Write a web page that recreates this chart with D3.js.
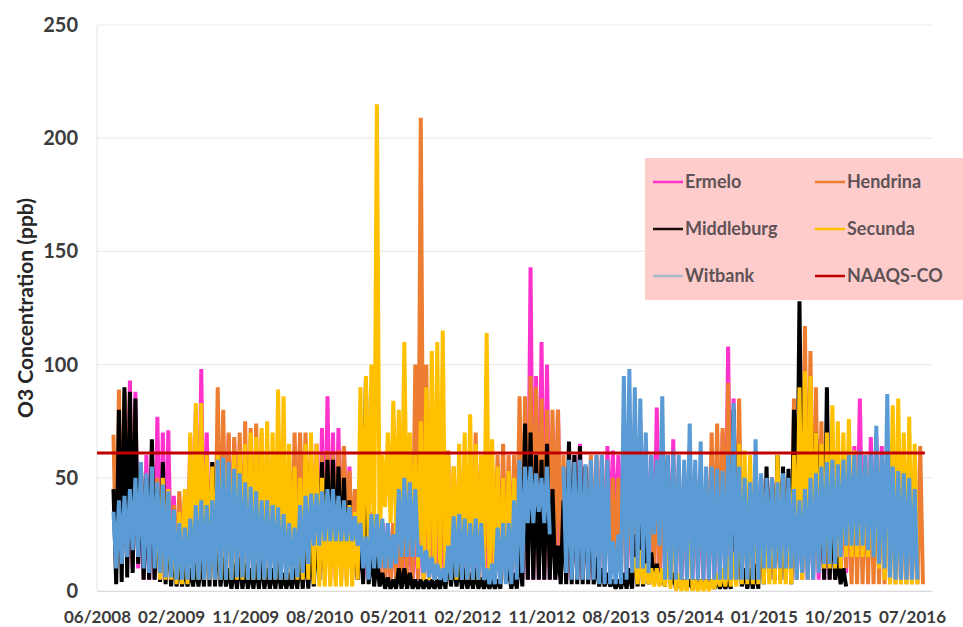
<!DOCTYPE html>
<html>
<head>
<meta charset="utf-8">
<script src="https://cdn.jsdelivr.net/npm/d3@7"></script>
<style>
  body { margin: 0; background: #fff; }
  svg text { font-family: Lato, "Open Sans", sans-serif; font-weight: bold; }
</style>
</head>
<body>
<svg id="chart" width="963" height="627"></svg>
<script>
// one reading every 20 days from 06/2008; each reading keeps the high and the low of the period
const startDate = "2008-06-01";
const stepDays = 20;
const tickLabels = ["06/2008", "02/2009", "11/2009", "08/2010", "05/2011", "02/2012",
                    "11/2012", "08/2013", "05/2014", "01/2015", "10/2015", "07/2016"];
const tickStepDays = 270;
const yTicks = [0, 50, 100, 150, 200, 250];
const naaqsValue = 61;
const naaqsPeriod = ["2008-06-01", "2016-09-04"];

const seriesNames = ["Ermelo", "Hendrina", "Middleburg", "Secunda", "Witbank"];
const seriesColors = ["#ff33cc", "#ed7d31", "#000000", "#ffc000", "#5b9bd5"];

const ermeloHigh = [
  null, null, null, null, null, 70, 93, 88, 55, 60,
  60, 77, 70, 71, 42, 40, 38, 68, 80, 98,
  70, 55, 60, 60, 69, 66, 62, 60, 55, 55,
  55, 55, 55, 55, 55, 55, 55, 55, 55, 60,
  65, 72, 86, 70, 72, 64, 55, 40, 35, 30,
  35, 30, 30, 30, 30, 30, 30, 30, 30, 30,
  30, 30, 30, 30, 30, 30, 30, 30, 30, 30,
  30, 30, 30, 30, 30, 30, 50, 60, 70, 143,
  95, 110, 100, 70, 80, 55, 55, 60, 65, 55,
  58, 58, 60, 64, 62, 60, 50, 55, 60, 75,
  65, 60, 81, 60, 58, 67, 55, 53, 64, 50,
  50, 50, 55, 60, 70, 108, 85, 60, 50, 50,
  50, 50, 50, 50, 50, 50, 50, 50, 50, 50,
  50, 50, 50, 50, 50, 50, 50, 50, 64, 85,
  60, 68, 68, 64, 55, 55, 55, 55, 55, 55,
  null];
const ermeloLow = [
  null, null, null, null, null, 10, 10, 10, 5, 5,
  5, 5, 5, 5, 5, 5, 5, 5, 5, 5,
  5, 5, 5, 5, 5, 5, 5, 5, 5, 5,
  5, 5, 5, 5, 5, 5, 5, 5, 5, 5,
  5, 5, 5, 5, 5, 5, 5, 5, 5, 5,
  5, 5, 5, 5, 5, 5, 5, 5, 5, 5,
  5, 5, 5, 5, 5, 5, 5, 5, 5, 5,
  5, 5, 5, 5, 5, 5, 5, 5, 5, 5,
  5, 5, 5, 5, 5, 5, 5, 5, 5, 5,
  5, 5, 5, 24, 22, 25, 5, 5, 5, 5,
  5, 5, 5, 5, 5, 5, 5, 5, 5, 5,
  5, 5, 5, 5, 5, 5, 5, 5, 5, 5,
  5, 5, 5, 5, 5, 5, 5, 5, 5, 5,
  5, 5, 5, 5, 5, 8, 8, 8, 15, 15,
  15, 15, 15, 15, 15, 15, 5, 5, 5, 5,
  null];

const hendrinaHigh = [
  null, null, null, 69, 89, 88, 85, 60, 55, 50,
  55, 50, 48, 40, 38, 44, 42, 50, 55, 60,
  58, 57, 90, 80, 70, 68, 70, 75, 72, 74,
  70, 65, 60, 60, 58, 60, 70, 70, 70, 60,
  55, 60, 62, 60, 62, 64, 53, 45, 35, 30,
  28, 30, 30, 25, 30, 40, 45, 60, 100, 209,
  100, 80, 70, 55, 62, 55, 55, 60, 62, 70,
  60, 55, 55, 60, 65, 60, 60, 86, 86, 95,
  90, 85, 80, 80, 80, 60, 50, 55, 55, 55,
  60, 60, 60, 50, 50, 50, 55, 55, 55, 55,
  55, 50, 50, 50, 50, 50, 50, 50, 50, 50,
  50, 50, 70, 74, 72, 92, 80, 85, 50, 50,
  50, 50, 50, 50, 50, 50, 50, 85, 60, 117,
  106, 90, 75, 55, 55, 55, 55, 55, 55, 55,
  55, 55, 55, 55, 55, 55, 55, 55, 55, 50,
  64];
const hendrinaLow = [
  null, null, null, 10, 12, 15, 12, 20, 20, 15,
  10, 10, 10, 10, 10, 8, 8, 8, 8, 8,
  8, 8, 8, 8, 8, 8, 8, 8, 8, 8,
  8, 8, 8, 8, 8, 8, 25, 30, 30, 30,
  25, 20, 20, 20, 20, 20, 20, 20, 15, 10,
  8, 5, 5, 5, 5, 5, 5, 5, 5, 5,
  5, 10, 10, 10, 3, 10, 10, 10, 10, 10,
  10, 10, 10, 10, 10, 10, 10, 10, 10, 10,
  10, 10, 10, 15, 15, 12, 10, 10, 10, 10,
  10, 10, 10, 10, 10, 10, 10, 10, 10, 10,
  10, 10, 10, 10, 10, 10, 10, 10, 10, 10,
  10, 10, 10, 10, 10, 10, 10, 10, 10, 10,
  10, 10, 10, 10, 10, 10, 10, 10, 10, 10,
  10, 10, 10, 10, 10, 10, 10, 3, 3, 3,
  3, 3, 3, 3, 3, 3, 3, 3, 3, 3,
  3];

const middleburgHigh = [
  null, null, null, 45, 80, 90, 88, 85, 55, 50,
  67, 45, 57, 35, 20, 15, 12, 10, 12, 15,
  50, 57, 30, 15, 10, 12, 15, 12, 10, 12,
  15, 10, 10, 12, 8, 8, 10, 18, 22, 20,
  30, 57, 58, 58, 55, 50, 40, 32, 25, 93,
  20, 15, 8, 6, 5, 10, 10, 8, 5, 5,
  5, 5, 5, 8, 18, 15, 12, 10, 8, 10,
  6, 5, 5, 5, 30, 10, 8, 20, 74, 70,
  60, 58, 65, 45, 20, 40, 66, 60, 64, 55,
  50, 15, 10, 8, 5, 5, 8, 10, 25, 30,
  28, 17, 12, 8, 60, 8, 5, 5, 5, 5,
  5, 5, 5, 5, 5, 5, 80, 30, 10, 10,
  12, 50, 55, 50, 60, 55, 54, 80, 128, 60,
  80, 70, 45, 90, 40, 15, 10, null, null, null,
  null, null, null, null, null, null, null, null, null, null,
  null];
const middleburgLow = [
  null, null, null, 3, 4, 6, 8, 12, 5, 5,
  5, 4, 3, 2, 2, 2, 2, 2, 2, 2,
  2, 2, 2, 2, 1, 1, 1, 1, 1, 1,
  1, 1, 1, 1, 1, 1, 1, 1, 1, 2,
  5, 8, 10, 10, 10, 10, 8, 5, 3, 3,
  2, 2, 1, 1, 1, 1, 1, 1, 1, 1,
  1, 1, 1, 1, 2, 2, 1, 1, 1, 1,
  1, 1, 1, 1, 18, 1, 1, 2, 5, 5,
  5, 5, 5, 5, 3, 3, 3, 3, 3, 3,
  3, 2, 2, 2, 1, 1, 1, 1, 2, 2,
  3, 3, 3, 2, 3, 1, 1, 1, 1, 1,
  1, 1, 1, 1, 1, 1, 5, 2, 1, 1,
  1, 3, 5, 5, 5, 5, 3, 10, 20, 20,
  30, 25, 5, 5, 5, 3, 2, null, null, null,
  null, null, null, null, null, null, null, null, null, null,
  null];

const secundaHigh = [
  null, null, null, null, null, null, null, null, null, null,
  null, 40, 50, 45, 30, 35, 45, 70, 83, 83,
  60, 55, 60, 58, 55, 60, 62, 65, 70, 68,
  72, 75, 70, 89, 86, 65, 55, 50, 65, 70,
  65, 50, 40, 40, 40, 35, 38, 35, 90, 95,
  100, 215, 60, 70, 84, 80, 110, 70, 60, 75,
  90, 106, 110, 115, 60, 55, 65, 70, 78, 65,
  60, 114, 67, 55, 50, 53, 50, null, null, null,
  null, null, null, null, null, null, null, null, null, null,
  null, null, null, null, null, null, null, null, 15, 18,
  12, 10, 10, 10, 20, 58, 8, 5, 60, 5,
  5, 5, 5, 8, 10, 15, 17, 65, 62, 60,
  55, 50, 40, 45, 60, 50, 45, 60, 90, 97,
  95, 70, 65, 70, 82, 75, 70, 76, 62, 60,
  58, 55, 55, 60, 65, 82, 85, 70, 77, 65,
  null];
const secundaLow = [
  null, null, null, null, null, null, null, null, null, null,
  null, 5, 5, 5, 3, 3, 3, 5, 5, 5,
  5, 5, 5, 5, 5, 5, 5, 5, 5, 5,
  5, 5, 5, 5, 5, 5, 5, 5, 5, 3,
  2, 2, 2, 2, 2, 2, 2, 5, 15, 20,
  20, 20, 37, 30, 25, 20, 20, 20, 10, 5,
  5, 5, 5, 5, 5, 5, 5, 5, 5, 5,
  5, 5, 5, 5, 5, 10, 10, null, null, null,
  null, null, null, null, null, null, null, null, null, null,
  null, null, null, null, null, null, null, null, 3, 3,
  3, 2, 2, 2, 1, 0, 0, 0, 0, 0,
  0, 0, 1, 2, 2, 2, 2, 3, 3, 3,
  3, 3, 3, 3, 3, 3, 3, 5, 5, 5,
  10, 10, 10, 10, 10, 10, 15, 15, 15, 15,
  15, 15, 10, 5, 3, 3, 3, 3, 3, 3,
  null];

const witbankHigh = [
  null, null, null, 35, 40, 42, 45, 50, 57, 52,
  55, 48, 47, 44, 36, 30, 28, 32, 38, 40,
  38, 40, 58, 59, 57, 54, 52, 48, 46, 44,
  40, 40, 38, 37, 34, 30, 28, 38, 42, 43,
  43, 44, 45, 45, 42, 40, 37, 33, 30, 24,
  34, 34, 32, 30, 25, 45, 50, 48, 45, 20,
  18, 15, 12, 10, 20, 33, 34, 32, 30, 32,
  30, 10, 12, 28, 30, 30, 40, 58, 55, 55,
  52, 50, 55, null, null, 55, 58, 57, 58, 56,
  58, 60, 60, 58, 22, 25, 95, 98, 90, 85,
  70, 60, 58, 86, 60, 62, 60, 58, 74, 58,
  66, 55, 55, 54, 53, 60, 83, 55, 50, 48,
  67, 52, 50, 50, 48, 52, 50, 45, 40, 45,
  50, 52, 55, 57, 58, 56, 58, 60, 60, 62,
  60, 61, 73, 60, 87, 55, 53, 52, 50, 45,
  null];
const witbankLow = [
  null, null, null, 10, 12, 15, 18, 15, 10, 8,
  10, 8, 6, 6, 5, 5, 5, 5, 5, 5,
  5, 5, 5, 5, 5, 6, 6, 5, 5, 5,
  5, 5, 5, 5, 5, 5, 6, 8, 12, 20,
  20, 22, 22, 22, 22, 22, 22, 20, 10, 5,
  10, 10, 10, 10, 12, 15, 15, 15, 15, 8,
  6, 5, 5, 4, 5, 6, 5, 5, 5, 5,
  5, 3, 3, 3, 3, 3, 5, 8, 30, 30,
  35, 30, 25, null, null, 8, 5, 5, 5, 5,
  5, 3, 3, 3, 3, 3, 5, 8, 10, 10,
  8, 25, 20, 5, 5, 5, 5, 5, 5, 5,
  5, 5, 5, 5, 5, 5, 5, 5, 5, 5,
  5, 10, 10, 10, 10, 10, 10, 5, 8, 5,
  5, 8, 12, 12, 12, 15, 20, 20, 20, 20,
  18, 15, 12, 10, 6, 5, 5, 5, 5, 5,
  null];

const seriesHigh = [ermeloHigh, hendrinaHigh, middleburgHigh, secundaHigh, witbankHigh];
const seriesLow = [ermeloLow, hendrinaLow, middleburgLow, secundaLow, witbankLow];

const margin = { top: 25, right: 31, bottom: 36, left: 97 };
const width = 963 - margin.left - margin.right;
const height = 627 - margin.top - margin.bottom;

const parse = d3.timeParse("%Y-%m-%d");
const start = parse(startDate);

const x = d3.scaleTime()
  .domain([start, d3.timeDay.offset(start, 3043)])
  .range([0, width]);
const y = d3.scaleLinear().domain([0, 250]).range([height, 0]);

const svg = d3.select("#chart");
const g = svg.append("g").attr("transform", `translate(${margin.left},${margin.top})`);

// grid lines
g.append("g")
  .selectAll("line")
  .data(yTicks)
  .enter()
  .append("line")
  .attr("x1", 0)
  .attr("x2", width)
  .attr("y1", d => y(d))
  .attr("y2", d => y(d))
  .attr("stroke", "#ececec")
  .attr("stroke-width", 1.2);

g.append("line")
  .attr("x1", 0).attr("x2", 0)
  .attr("y1", 0).attr("y2", height)
  .attr("stroke", "#e4e4e4");

// y axis labels
const yAxis = g.append("g")
  .call(d3.axisLeft(y).tickValues(yTicks).tickSize(0).tickPadding(19));
yAxis.select(".domain").remove();
yAxis.selectAll("text").attr("font-size", 20).attr("fill", "#3b3b3b");

// x axis
const tickDates = tickLabels.map((_, k) => d3.timeDay.offset(start, k * tickStepDays));
const xAxis = g.append("g")
  .attr("transform", `translate(0,${height})`)
  .call(d3.axisBottom(x).tickValues(tickDates).tickFormat((d, k) => tickLabels[k])
    .tickSize(0).tickPadding(20));
xAxis.select(".domain").attr("stroke", "#dcdcdc");
xAxis.selectAll("text").attr("font-size", 17).attr("fill", "#3b3b3b");

// y title
svg.append("text")
  .attr("transform", "translate(33,308) rotate(-90)")
  .attr("text-anchor", "middle")
  .attr("font-size", 21)
  .attr("fill", "#262626")
  .text("O3 Concentration (ppb)");

// station series: the line swings from the period high to the period low
g.append("clipPath").attr("id", "plotClip")
  .append("rect").attr("width", width).attr("height", height + 1);

const line = d3.line()
  .defined(d => d.value != null)
  .x(d => x(d.date))
  .y(d => y(d.value));

const plot = g.append("g").attr("clip-path", "url(#plotClip)");

seriesNames.forEach((name, s) => {
  const pts = [];
  seriesHigh[s].forEach((h, i) => {
    const t = d3.timeDay.offset(start, i * stepDays);
    pts.push({ date: t, value: h });
    pts.push({ date: d3.timeDay.offset(t, stepDays / 2), value: seriesLow[s][i] });
  });
  plot.append("path")
    .datum(pts)
    .attr("fill", "none")
    .attr("stroke", seriesColors[s])
    .attr("stroke-width", 4)
    .attr("stroke-linejoin", "bevel")
    .attr("d", line);
});

// NAAQS limit
plot.append("path")
  .datum(naaqsPeriod.map(d => ({ date: parse(d), value: naaqsValue })))
  .attr("fill", "none")
  .attr("stroke", "#c00000")
  .attr("stroke-width", 3)
  .attr("d", line);

// legend
const legendNames = ["Ermelo", "Hendrina", "Middleburg", "Secunda", "Witbank", "NAAQS-CO"];
const legendColors = ["#ff33cc", "#ed7d31", "#1a0a0a", "#ffc000", "#a9b8c9", "#c00000"];
const legend = svg.append("g").attr("transform", "translate(645,158)");
legend.append("rect").attr("width", 318).attr("height", 142).attr("fill", "#ffcccc");

const items = legend.selectAll("g.item")
  .data(legendNames)
  .enter()
  .append("g")
  .attr("class", "item")
  .attr("transform", (d, k) => `translate(${k % 2 === 0 ? 8 : 170},${24 + Math.floor(k / 2) * 47})`);

items.append("line")
  .attr("x1", 0).attr("x2", 30)
  .attr("stroke", (d, k) => legendColors[k])
  .attr("stroke-width", 2.5);

items.append("text")
  .attr("x", 32)
  .attr("dy", "0.35em")
  .attr("font-size", 18)
  .attr("fill", "#5e5256")
  .text(d => d);
</script>
</body>
</html>
